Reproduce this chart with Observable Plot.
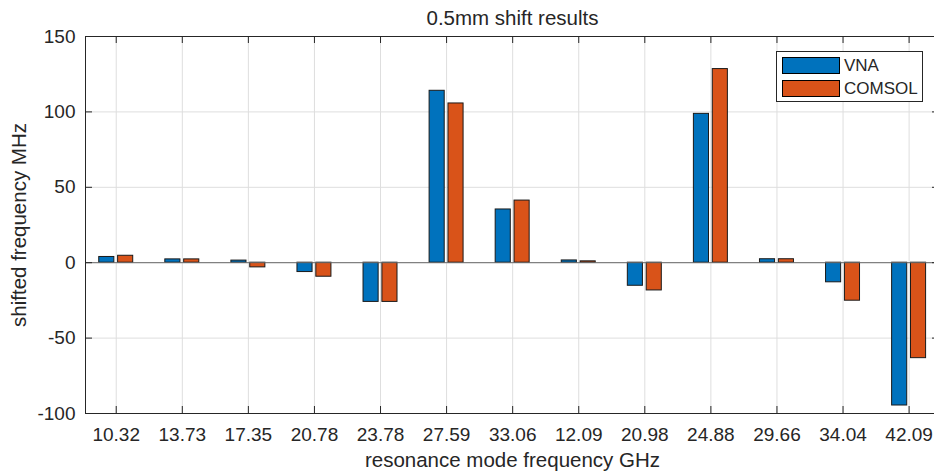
<!DOCTYPE html>
<html>
<head>
<meta charset="utf-8">
<script src="https://cdn.jsdelivr.net/npm/d3@7"></script>
<script src="https://cdn.jsdelivr.net/npm/@observablehq/plot@0.6"></script>
<style>
  html, body { margin: 0; padding: 0; background: #fff; }
  #wrap { position: relative; width: 934px; height: 474px; overflow: hidden; font-family: "Liberation Sans", Arial, sans-serif; }
  #legend { position: absolute; left: 776px; top: 51px; width: 147px; height: 51px; border: 1px solid #262626; background: #fff; box-sizing: border-box; }
  .item { position: absolute; left: 5px; height: 17px; display: flex; align-items: center; }
  .sw { width: 56px; height: 15px; border: 1px solid #000; box-sizing: content-box; }
  .lab { margin-left: 4px; font-size: 17px; color: #262626; }
</style>
</head>
<body>
<div id="wrap"></div>
<script>
const title = "0.5mm shift results";
const xLabel = "resonance mode frequency GHz";
const yLabel = "shifted frequency MHz";
const categories = ["10.32","13.73","17.35","20.78","23.78","27.59","33.06","12.09","20.98","24.88","29.66","34.04","42.09"];
const vna =    [3.8, 2.2, 1.4, -6.2, -26.0, 114.0, 35.3, 1.5, -15.3, 98.7, 2.3, -13.0, -94.7];
const comsol = [4.6, 2.2, -3.1, -9.3, -26.0, 105.6, 41.2, 0.9, -18.4, 128.4, 2.3, -25.2, -63.3];
const seriesNames = ["VNA", "COMSOL"];
const seriesColors = ["#0072BD", "#D95319"];
const yTicks = [-100, -50, 0, 50, 100, 150];

const barW = 0.2286, off = 0.1428;
const rows = [];
categories.forEach((c, i) => {
  rows.push({idx: i + 1, series: "VNA", value: vna[i], shift: -off});
  rows.push({idx: i + 1, series: "COMSOL", value: comsol[i], shift: off});
});
const xTicks = categories.map((c, i) => i + 1);

const mL = 85, mR = -5, mT = 36, mB = 61, W = 934, H = 474;
const frameW = W - mL - mR, frameH = H - mT - mB;
const ink = "#262626";

const chart = Plot.plot({
  width: W, height: H,
  marginLeft: mL, marginRight: mR, marginTop: mT, marginBottom: mB,
  style: {fontFamily: "'Liberation Sans', Arial, sans-serif", color: ink, background: "white", overflow: "visible"},
  x: {type: "linear", domain: [0.535, 13.46], axis: null},
  y: {domain: [-100, 150], axis: null},
  color: {domain: seriesNames, range: seriesColors},
  marks: [
    Plot.gridX(xTicks, {stroke: "#dedede", strokeOpacity: 1}),
    Plot.gridY(yTicks, {stroke: "#dedede", strokeOpacity: 1}),
    Plot.rectY(rows, {
      x1: d => d.idx + d.shift - barW / 2,
      x2: d => d.idx + d.shift + barW / 2,
      y1: 0, y2: "value",
      fill: "series", stroke: "#1a1a1a", strokeWidth: 1
    }),
    Plot.ruleY([0], {stroke: "#6a6a6a", strokeWidth: 1}),
    Plot.frame({stroke: ink, strokeWidth: 1}),
    Plot.tickX(xTicks, {x: d => d, insetTop: frameH - 7, stroke: ink}),
    Plot.tickX(xTicks, {x: d => d, insetBottom: frameH - 7, stroke: ink}),
    Plot.tickY(yTicks, {y: d => d, insetRight: frameW - 7, stroke: ink}),
    Plot.tickY(yTicks, {y: d => d, insetLeft: frameW - 7, stroke: ink}),
    Plot.axisX({ticks: xTicks, tickFormat: i => categories[i - 1], tickSize: 0, tickPadding: 14, fontSize: 19, label: null}),
    Plot.axisY({ticks: yTicks, tickFormat: d => String(d), tickSize: 0, tickPadding: 10, fontSize: 19, label: null}),
    Plot.text([title], {frameAnchor: "top", dy: -18, lineAnchor: "middle", textAnchor: "middle", fontSize: 20.5, fill: ink}),
    Plot.text([xLabel], {frameAnchor: "bottom", dy: 47, lineAnchor: "middle", textAnchor: "middle", fontSize: 20.5, fill: ink}),
    Plot.text([yLabel], {frameAnchor: "left", dx: -66, rotate: -90, lineAnchor: "middle", textAnchor: "middle", fontSize: 20.5, fill: ink})
  ]
});
const wrap = document.getElementById("wrap");
wrap.appendChild(chart);

const legend = document.createElement("div");
legend.id = "legend";
seriesNames.forEach((name, k) => {
  const item = document.createElement("div");
  item.className = "item";
  item.style.top = (5 + k * 23) + "px";
  const sw = document.createElement("div");
  sw.className = "sw";
  sw.style.background = seriesColors[k];
  const lab = document.createElement("span");
  lab.className = "lab";
  lab.textContent = name;
  item.appendChild(sw); item.appendChild(lab);
  legend.appendChild(item);
});
wrap.appendChild(legend);
</script>
</body>
</html>
